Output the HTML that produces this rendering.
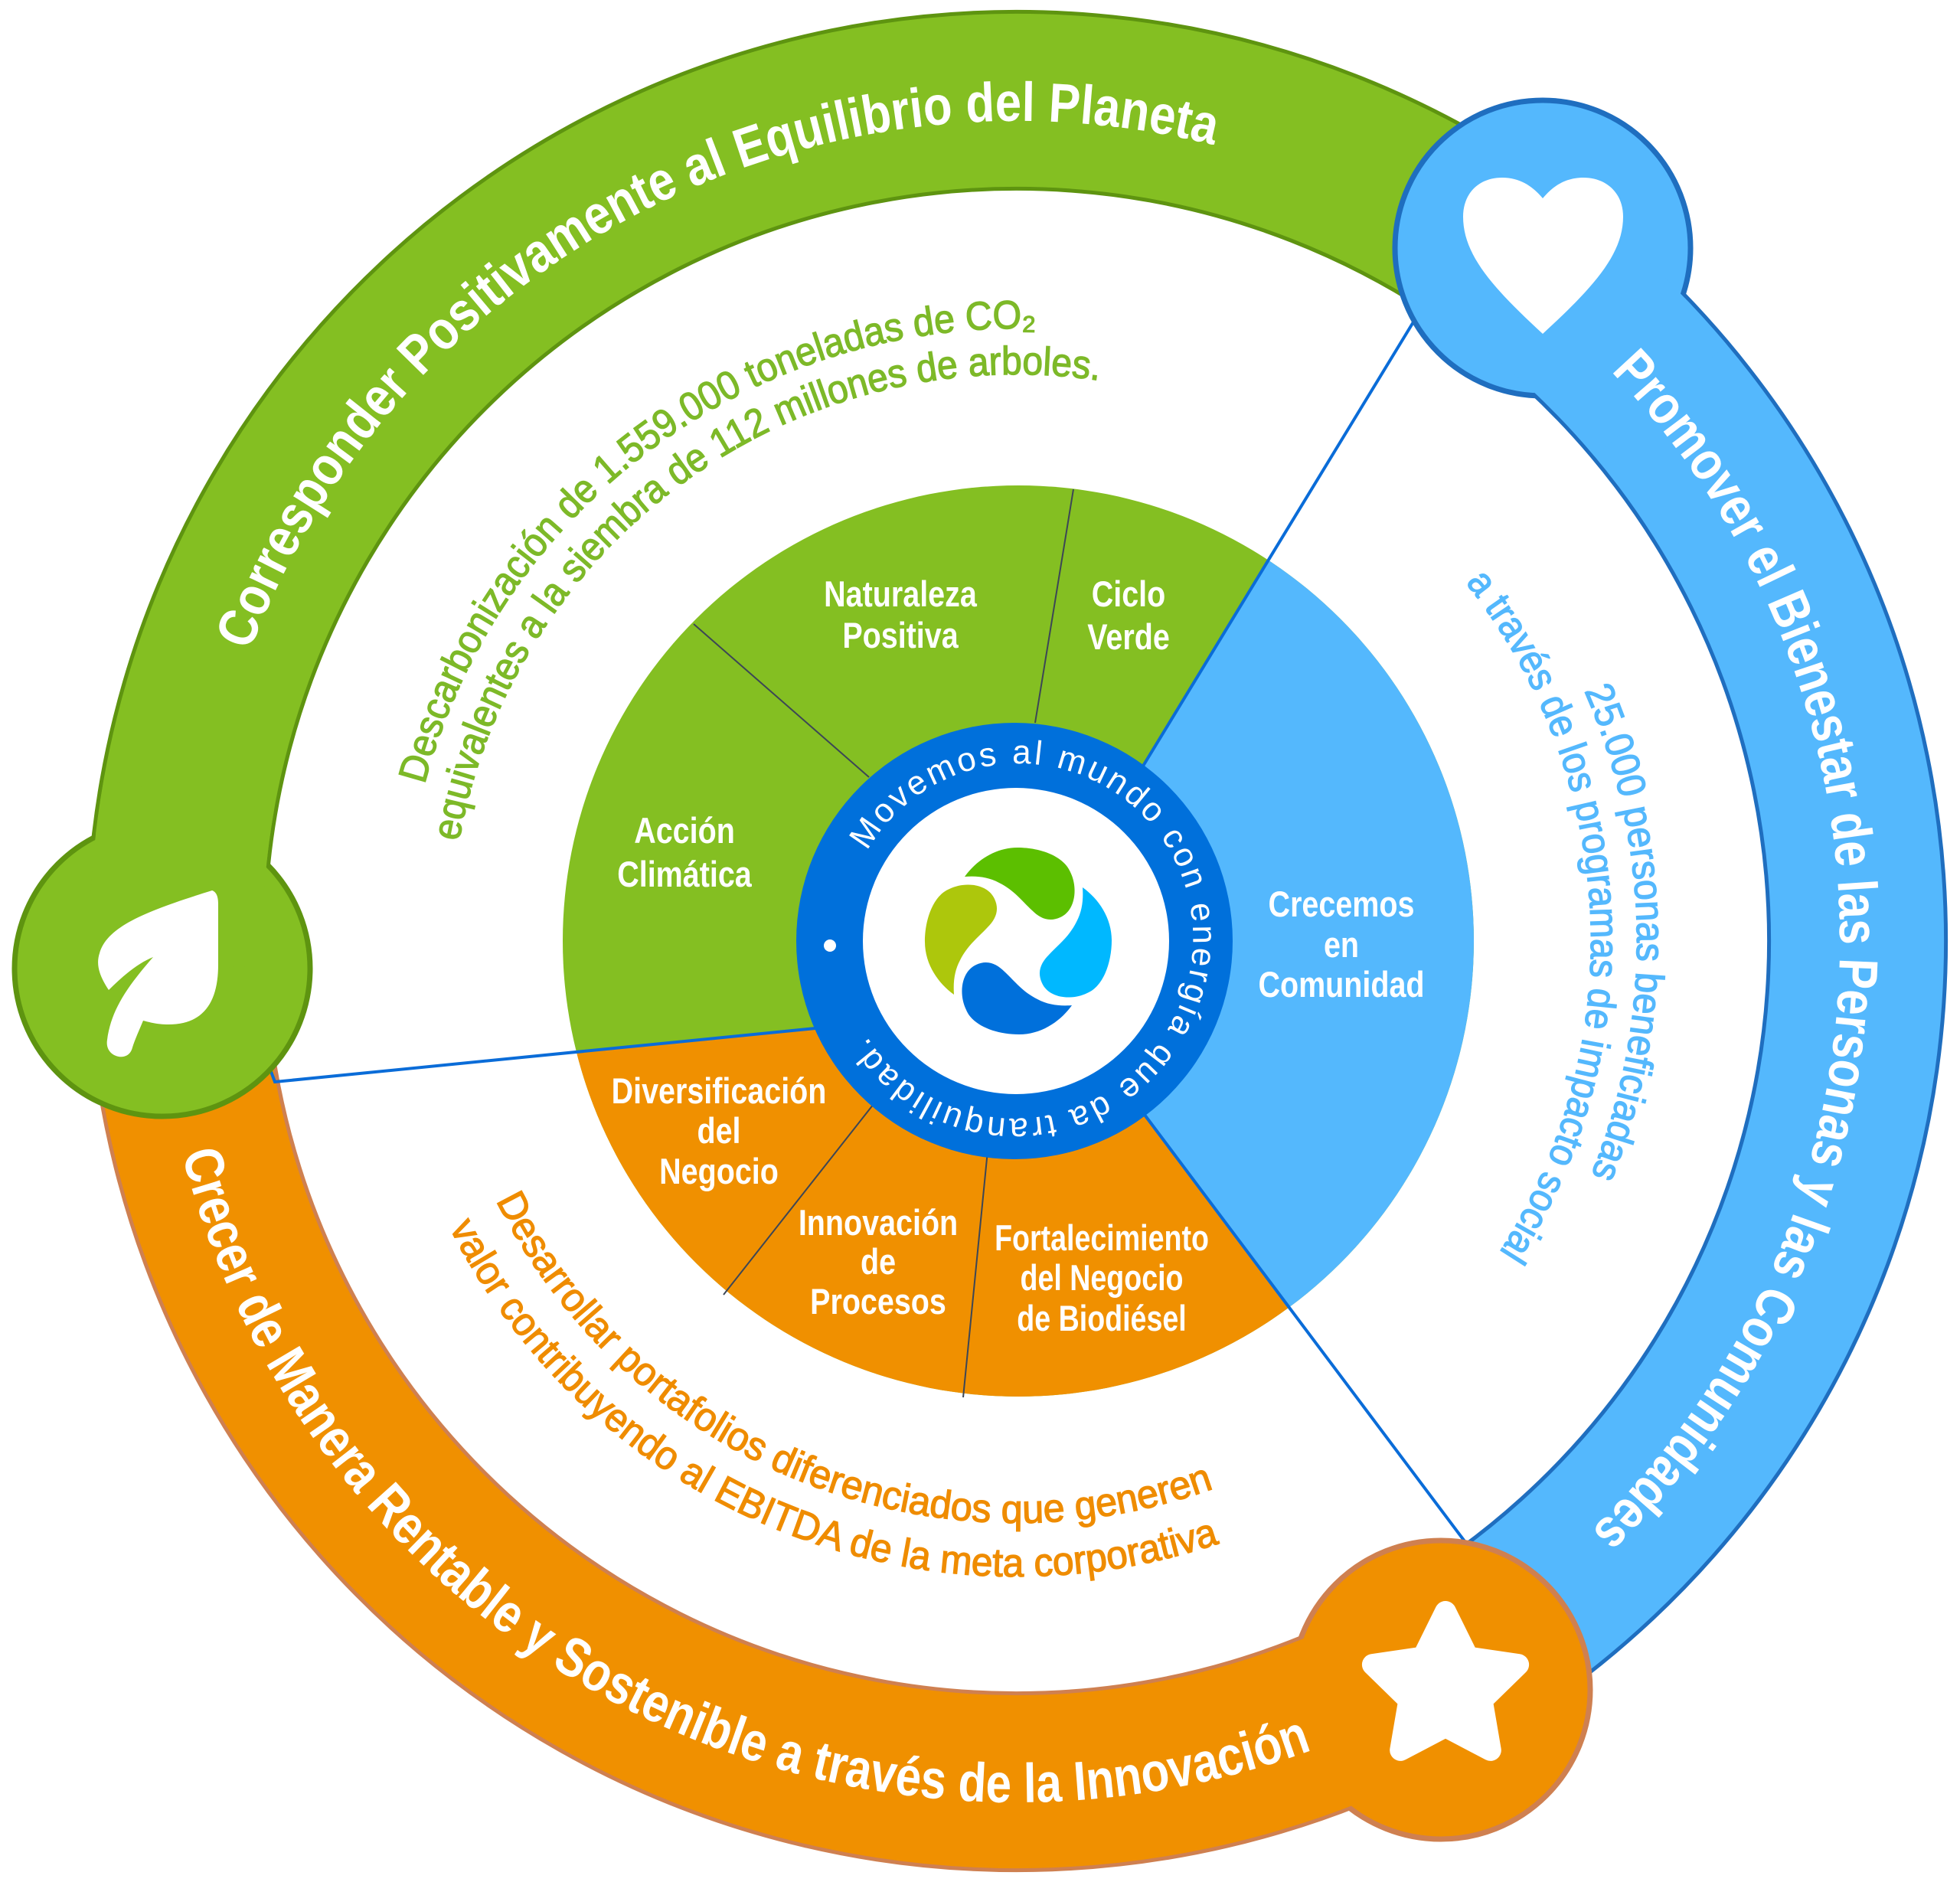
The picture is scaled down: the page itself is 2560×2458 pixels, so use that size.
<!DOCTYPE html>
<html><head><meta charset="utf-8"><style>
html,body{margin:0;padding:0;background:#fff;}
svg{display:block;}
.n{font-family:"Liberation Sans Narrow","Liberation Sans",sans-serif;}
</style></head><body>
<svg width="2560" height="2458" viewBox="0 0 2560 2458" xmlns="http://www.w3.org/2000/svg">
<defs>
<clipPath id="pie"><circle cx="1330" cy="1229" r="595"/></clipPath>
<path id="tg" d="M326.2,850.4 A1071,1071 0 0 1 1588.9,190.2"/>
<path id="tb" d="M2104,485 A1075,1075 0 0 1 2073.4,2003.6"/>
<path id="to" d="M237.9,1506.9 A1125,1125 0 0 0 1725.7,2281.3"/>
<path id="g1" d="M554.6,1024.7 A800,800 0 0 1 1353.1,429.4"/>
<path id="g2" d="M599.5,1099.2 A740,740 0 0 1 1436.1,496.9"/>
<path id="b1" d="M2069.2,902.2 A810,810 0 0 1 2078,1535"/>
<path id="b2" d="M1914.1,761.1 A750,750 0 0 1 1955.6,1639.7"/>
<path id="o1" d="M647.9,1568.1 A760,760 0 0 0 1587.9,1943.2"/>
<path id="o2" d="M587.1,1603.2 A830,830 0 0 0 1594.1,2015.2"/>
<path id="lt" d="M1132.6,1111.6 A228,228 0 1 1 1523.4,1346.4 A228,228 0 1 1 1132.6,1111.6"/>
<path id="petal" d="M-70,-84 C-55,-105 -30,-122 -1,-122 C30,-122 60,-110 68,-90 C78,-70 75,-40 55,-31 C40,-24 28,-30 18,-40 C5,-52 -5,-66 -25,-76 C-40,-84 -55,-85 -70,-84 Z"/>
</defs>

<g fill="none">
<path d="M1991.9,354.4 A1098,1098 0 0 1 1868.7,2184.7" stroke="#1F6EBF" stroke-width="236"/>
<path d="M1991.9,354.4 A1098,1098 0 0 1 1868.7,2184.7" stroke="#54B8FD" stroke-width="226"/>
<path d="M230.6,1265.4 A1098,1098 0 0 1 1991.9,354.4" stroke="#5E9410" stroke-width="236"/>
<path d="M230.6,1265.4 A1098,1098 0 0 1 1991.9,354.4" stroke="#84BF22" stroke-width="226"/>
<path d="M1868.7,2184.7 A1098,1098 0 0 1 230.6,1265.4" stroke="#CF8050" stroke-width="236"/>
<path d="M1868.7,2184.7 A1098,1098 0 0 1 230.6,1265.4" stroke="#F09000" stroke-width="226"/>
</g>

<g clip-path="url(#pie)">
<rect x="0" y="0" width="2560" height="2458" fill="#84BF22"/>
<polygon points="1328,1229 1492,1002 2102,0 2560,0 2560,2458 2247,2458 1492,1452" fill="#54B8FD"/>
<polygon points="1328,1229 1492,1452 2247,2458 0,2458 0,1449 1065,1343" fill="#F09000"/>
</g>
<g stroke="#3C4656" stroke-width="2">
<line x1="906" y1="815" x2="1135" y2="1015"/>
<line x1="1402" y1="639" x2="1352" y2="944"/>
<line x1="1141" y1="1442" x2="945" y2="1691"/>
<line x1="1290" y1="1503" x2="1258" y2="1825"/>
</g>
<g stroke="#0A6CD8" stroke-width="4" fill="none">
<line x1="1847" y1="419" x2="1492" y2="1002"/>
<line x1="1492" y1="1452" x2="1913" y2="2013"/>
<polyline points="1065,1343 359,1413 352,1394"/>
</g>

<circle cx="2015" cy="324" r="193" fill="#54B8FD" stroke="#1F6EBF" stroke-width="7"/>
<circle cx="212" cy="1265" r="193" fill="#84BF22" stroke="#5E9410" stroke-width="7"/>
<circle cx="1882" cy="2207" r="195" fill="#F09000" stroke="#CF8050" stroke-width="7"/>
<g fill="none">
<path d="M1991.9,354.4 A1098,1098 0 0 1 2169.1,523.2" stroke="#54B8FD" stroke-width="226"/>
<path d="M230.6,1265.4 A1098,1098 0 0 1 246.7,1038.4" stroke="#84BF22" stroke-width="226"/>
<path d="M1868.7,2184.7 A1098,1098 0 0 1 1667.3,2273.3" stroke="#F09000" stroke-width="226"/>
</g>

<path d="M2015,436 C1950,376 1911,333 1911,283 C1911,252 1932,232 1962,232 C1988,232 2004,246 2015,259 C2026,246 2042,232 2068,232 C2098,232 2120,252 2120,283 C2120,333 2080,376 2015,436 Z" fill="#fff"/>
<path d="M277,1163 C283,1165 285,1172 285,1180 L285,1260 C285,1310 265,1338 220,1338 C205,1338 195,1335 187,1333 C182,1345 176,1358 173,1368 C170,1380 160,1381 155,1380 C145,1378 138,1370 140,1358 C145,1320 165,1290 200,1250 C180,1258 160,1275 142,1293 C130,1275 125,1260 130,1245 C140,1210 190,1190 277,1163 Z" fill="#fff"/>
<g transform="translate(1888,2205)">
<polygon points="0,-100 29.4,-40.5 95.1,-30.9 47.6,15.5 58.8,80.9 0,50 -58.8,80.9 -47.6,15.5 -95.1,-30.9 -29.4,-40.5" fill="#fff" stroke="#fff" stroke-width="28" stroke-linejoin="round"/>
</g>

<circle cx="1325" cy="1229" r="285" fill="#0070DB"/>
<circle cx="1327" cy="1229" r="200" fill="#fff"/>
<circle cx="1084" cy="1235" r="8" fill="#fff"/>
<text font-family="Liberation Sans, sans-serif" font-size="44" fill="#fff"><textPath href="#lt" textLength="1195" lengthAdjust="spacing">Movemos al mundo con energía que da tranquilidad.</textPath></text>
<g transform="translate(1330,1229)">
<use href="#petal" fill="#5CBF00"/>
<use href="#petal" fill="#00B8FF" transform="rotate(90)"/>
<use href="#petal" fill="#0070DB" transform="rotate(180)"/>
<use href="#petal" fill="#ADC70C" transform="rotate(270)"/>
</g>

<g class="n" font-weight="bold" fill="#fff" font-size="72">
<text><textPath href="#tg" textLength="1555" lengthAdjust="spacingAndGlyphs">Corresponder Positivamente al Equilibrio del Planeta</textPath></text>
<text><textPath href="#tb" textLength="1680" lengthAdjust="spacingAndGlyphs">Promover el Bienestar de las Personas y las Comunidades</textPath></text>
<text><textPath href="#to" textLength="1880" lengthAdjust="spacingAndGlyphs">Crecer de Manera Rentable y Sostenible a través de la Innovación</textPath></text>
</g>

<g class="n" font-size="52" stroke-width="1.3">
<text fill="#7DB928" stroke="#7DB928"><textPath href="#g1" textLength="1075" lengthAdjust="spacingAndGlyphs">Descarbonización de 1.559.000 toneladas de CO₂</textPath></text>
<text fill="#7DB928" stroke="#7DB928"><textPath href="#g2" textLength="1140" lengthAdjust="spacingAndGlyphs">equivalentes a la siembra de 112 millones de arboles.</textPath></text>
<text fill="#54B8FD" stroke="#54B8FD"><textPath href="#b1" textLength="650" lengthAdjust="spacingAndGlyphs">25.000 personas beneficiadas</textPath></text>
<text fill="#54B8FD" stroke="#54B8FD"><textPath href="#b2" textLength="935" lengthAdjust="spacingAndGlyphs">a través de los programas de impacto social</textPath></text>
<text fill="#EF8C00" stroke="#EF8C00"><textPath href="#o1" textLength="1105" lengthAdjust="spacingAndGlyphs">Desarrollar portafolios diferenciados que generen</textPath></text>
<text fill="#EF8C00" stroke="#EF8C00"><textPath href="#o2" textLength="1185" lengthAdjust="spacingAndGlyphs">valor contribuyendo al EBITDA de la meta corporativa</textPath></text>
</g>

<g class="n" font-weight="bold" fill="#fff" font-size="47" text-anchor="middle">
<g transform="translate(1176,0) scale(0.84,1)"><text x="0" y="792">Naturaleza</text><text x="0" y="846">Positiva</text></g>
<g transform="translate(1474,0) scale(0.84,1)"><text x="0" y="792">Ciclo</text><text x="0" y="848">Verde</text></g>
<g transform="translate(894,0) scale(0.84,1)"><text x="0" y="1101">Acción</text><text x="0" y="1158">Climática</text></g>
<g transform="translate(1752,0) scale(0.84,1)"><text x="0" y="1197">Crecemos</text><text x="0" y="1250">en</text><text x="0" y="1302">Comunidad</text></g>
<g transform="translate(939,0) scale(0.84,1)"><text x="0" y="1441">Diversificación</text><text x="0" y="1493">del</text><text x="0" y="1546">Negocio</text></g>
<g transform="translate(1147,0) scale(0.84,1)"><text x="0" y="1613">Innovación</text><text x="0" y="1664">de</text><text x="0" y="1716">Procesos</text></g>
<g transform="translate(1439,0) scale(0.8,1)"><text x="0" y="1633">Fortalecimiento</text><text x="0" y="1685">del Negocio</text><text x="0" y="1738">de Biodiésel</text></g>
</g>
</svg>
</body></html>
